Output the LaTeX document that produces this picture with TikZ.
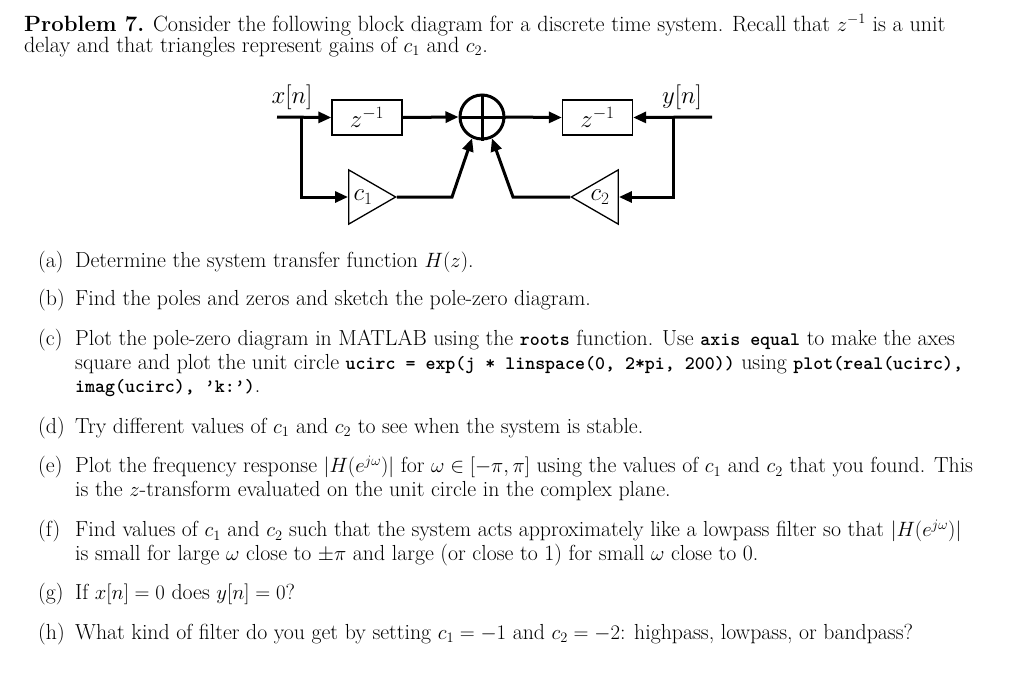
\documentclass[tikz,border=0pt]{standalone}
\usetikzlibrary{arrows.meta,shapes.geometric}
\newcommand{\ctt}[1]{{\fontsize{19}{25}\selectfont\texttt{\textbf{#1}}}}
\begin{document}
\begin{tikzpicture}[x=1pt,y=-1pt,
  txt/.style={anchor=west,inner sep=0pt,font=\fontsize{21.8}{25}\selectfont},
  lbl/.style={anchor=west,inner sep=0pt,font=\fontsize{21.8}{25}\selectfont},
  big/.style={font=\fontsize{25}{28}\selectfont},
  wire/.style={line width=3pt},
  arr/.style={wire,-{Triangle[length=13pt,width=11pt]}},
  blk/.style={draw,line width=1.3pt,minimum width=70pt,minimum height=35pt,inner sep=0pt,big},
  gain/.style={draw,line width=1.3pt,isosceles triangle,isosceles triangle apex angle=60,minimum height=47pt,inner sep=0pt}]
\useasboundingbox (0,0) rectangle (1024,689);
\fill[white] (0,0) rectangle (1024,689);
% header
\node[txt,font=\fontsize{22.1}{25}\selectfont] at (24,25) {\textbf{Problem 7.} Consider the following block diagram for a discrete time system. Recall that $z^{-1}$ is a unit};
\node[txt,font=\fontsize{22.1}{25}\selectfont] at (24,47) {delay and that triangles represent gains of $c_1$ and $c_2$.};
% diagram
\node[blk] (d1) at (367,117.5) {$z^{-1}$};
\node[blk] (d2) at (597.5,117.5) {$z^{-1}$};
\node[draw,circle,line width=3pt,minimum size=44pt,inner sep=0pt] (s) at (482,117) {};
\draw[line width=3pt] (s.north)--(s.south) (s.west)--(s.east);
\node[gain,anchor=west] (g1) at (348,197) {};
\node[big] at (363,197) {$c_1$};
\node[gain,shape border rotate=180,anchor=west] (g2) at (570,197) {};
\node[big] at (600,197) {$c_2$};
\node[big] (xl) at (292,97) {$x[n]$};
\node[big] (yl) at (682,97) {$y[n]$};
\coordinate (xin) at (277,117);
\coordinate (xb) at (301,117);
\coordinate (yin) at (712,117);
\coordinate (yb) at (673,117);
\coordinate (k1) at (452,197);
\coordinate (k2) at (513,197);
\draw[arr] (xin)--(d1.west);
\draw[arr] (xb)|-(g1.west);
\draw[arr] (d1.east)--(s.west);
\draw[arr] (g1.east)--(k1)--(s.-115);
\draw[arr] (s.east)--(d2.west);
\draw[arr] (yin)--(d2.east);
\draw[arr] (yb)|-(g2.east);
\draw[arr] (g2.west)--(k2)--(s.-65);
% questions
\foreach \l/\y in {a/262,b/300,c/340,d/428,e/467,f/531,g/594,h/634}{\node[lbl] at (38,\y) {(\l)};}
\node[txt] at (75,262) {Determine the system transfer function $H(z)$.};
\node[txt] at (75,300) {Find the poles and zeros and sketch the pole-zero diagram.};
\node[txt] at (75,340) {Plot the pole-zero diagram in MATLAB using the \ctt{roots} function. Use \ctt{axis equal} to make the axes};
\node[txt] at (75,364) {square and plot the unit circle \ctt{ucirc = exp(j * linspace(0, 2*pi, 200))} using \ctt{plot(real(ucirc),}};
\node[txt] at (75,388) {\ctt{imag(ucirc), ’k:’)}.};
\node[txt] at (75,428) {Try different values of $c_1$ and $c_2$ to see when the system is stable.};
\node[txt] at (75,467) {Plot the frequency response $|H(e^{j\omega})|$ for $\omega\in[-\pi,\pi]$ using the values of $c_1$ and $c_2$ that you found. This};
\node[txt] at (75,491) {is the $z$-transform evaluated on the unit circle in the complex plane.};
\node[txt] at (75,531) {Find values of $c_1$ and $c_2$ such that the system acts approximately like a lowpass filter so that $|H(e^{j\omega})|$};
\node[txt] at (75,555) {is small for large $\omega$ close to $\pm\pi$ and large (or close to 1) for small $\omega$ close to 0.};
\node[txt] at (75,594) {If $x[n]=0$ does $y[n]=0$?};
\node[txt] at (75,634) {What kind of filter do you get by setting $c_1=-1$ and $c_2=-2$: highpass, lowpass, or bandpass?};
\end{tikzpicture}
\end{document}
